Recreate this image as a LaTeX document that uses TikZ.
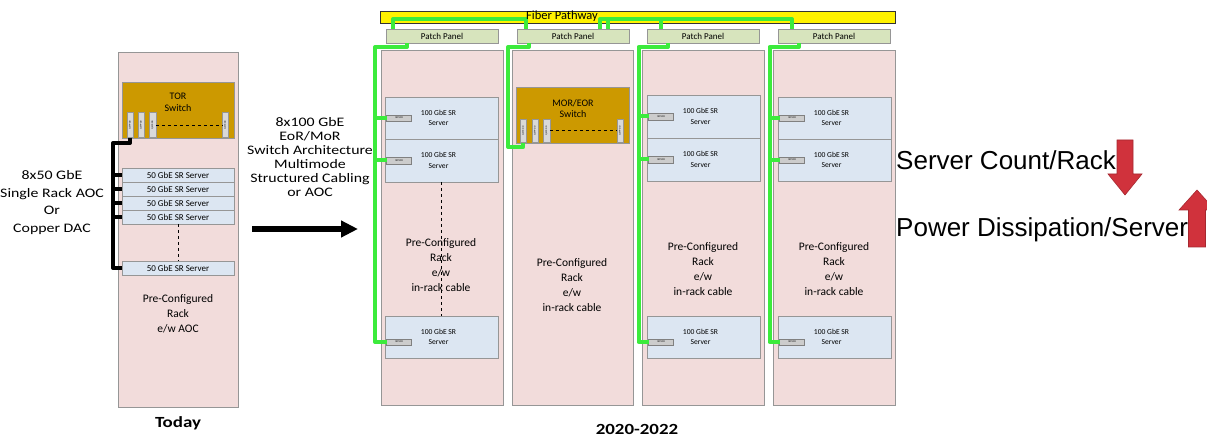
\documentclass[tikz,border=0pt]{standalone}
\usepackage{fontspec}
\setmainfont{Carlito}
\newfontfamily\widef[FakeStretch=1.22]{Carlito}
\newfontfamily\arialf{Liberation Sans}
\usetikzlibrary{arrows.meta,calc}
\definecolor{rackpink}{RGB}{242,220,219}
\definecolor{srvblue}{RGB}{220,230,242}
\definecolor{gold}{RGB}{204,153,0}
\definecolor{ppgreen}{RGB}{215,228,189}
\definecolor{fiberg}{RGB}{60,235,60}
\definecolor{edgegray}{RGB}{150,150,150}
\definecolor{portgray}{RGB}{217,217,217}
\definecolor{redarrow}{RGB}{208,50,60}
\definecolor{rededge}{RGB}{165,40,48}
\begin{document}
\begin{tikzpicture}[x=1pt,y=-1pt,
  box/.style={draw=edgegray, line width=0.6pt, inner sep=0pt, outer sep=0pt, anchor=north west},
  rackbox/.style={box, fill=rackpink, minimum height=355pt},
  srv/.style={box, fill=srvblue},
  srv50/.style={srv, minimum width=112pt, minimum height=14pt, font=\fontsize{9}{10}\selectfont},
  srv100/.style={srv, minimum width=113pt},
  swbox/.style={box, fill=gold},
  port/.style={draw=edgegray, fill=portgray, line width=0.4pt, inner sep=0pt, outer sep=0pt, anchor=north west, minimum width=6.6pt},
  porttxt/.style={rotate=90, inner sep=0pt, font=\fontsize{2.4}{3}\selectfont},
  sfp/.style={draw=gray, fill=portgray!85!gray, line width=0.4pt, inner sep=0pt, outer sep=0pt, anchor=west, minimum width=25pt, minimum height=6.5pt, font=\fontsize{2.6}{3}\selectfont},
  ppanel/.style={box, fill=ppgreen, minimum width=112pt, minimum height=14pt, font=\fontsize{9}{10}\selectfont},
  gl/.style={draw=fiberg, line width=4pt, line join=round},
  blk/.style={draw=black, line width=4pt, line join=round},
  lbl/.style={align=center, inner sep=0pt},
  srvtxt/.style={lbl, font=\fontsize{7.6}{10.6}\selectfont},
  racktxt/.style={lbl, font=\fontsize{11.5}{15}\selectfont},
  swtxt/.style={lbl, font=\fontsize{10}{12.5}\selectfont},
  yrtxt/.style={lbl, font=\widef\bfseries\fontsize{15.5}{17}\selectfont},
  righttxt/.style={anchor=base west, inner sep=0pt, font=\arialf\fontsize{26}{29}\selectfont},
  redar/.style={fill=redarrow, draw=rededge, line width=0.6pt, line join=miter}
]
\useasboundingbox (0,0) rectangle (1207,438);
\clip (0,0) rectangle (1207,438);

% ---------------- Today rack ----------------
\node[rackbox, minimum width=120pt] (r0) at (118,52) {};
\node[swbox, minimum width=112pt, minimum height=56pt] (tor) at (122,82) {};
\node[swtxt] (tort) at (178,102.5) {TOR\\Switch};
\node[port, minimum height=25.4pt] (q1) at (126.7,112.3) {};
\node[port, minimum height=25.4pt] (q2) at (137.7,112.3) {};
\node[port, minimum height=25.4pt] (q3) at (149.3,112.3) {};
\node[port, minimum height=25.4pt] (q4) at (222,112.3) {};
\foreach \q in {q1,q2,q3,q4} \node[porttxt] (\q t) at (\q.center) {QSFP-DD};
\draw[dashed, line width=0.8pt] (q3.east) -- (q4.west);

\node[srv50] (s1) at (122,168) {50 GbE SR Server};
\node[srv50] (s2) at (122,182) {50 GbE SR Server};
\node[srv50] (s3) at (122,196) {50 GbE SR Server};
\node[srv50] (s4) at (122,210) {50 GbE SR Server};
\node[srv50] (s5) at (122,261) {50 GbE SR Server};
\draw[dashed, line width=0.8pt] (s4.south) -- (s5.north);

\coordinate (k1) at (130,143);
\coordinate (k2) at (113,143);
\draw[blk] (q1.south) -- (k1) -- (k2) |- (s5.west);
\foreach \s in {s1,s2,s3,s4} \draw[blk] (k2 |- \s.west) -- (\s.west);

\node[racktxt] (r0t) at (178,314) {Pre-Configured\\Rack\\e/w AOC};
\node[yrtxt] (today) at (178,423) {Today};

% ---------------- left / middle texts ----------------
\node[lbl, font=\widef\fontsize{13}{17.5}\selectfont] (lt) at (52,202.5) {8x50 GbE\\Single Rack AOC\\Or\\Copper DAC};
\node[lbl, font=\widef\fontsize{13}{14.1}\selectfont] (mt) at (310,157) {8x100 GbE\\EoR/MoR\\Switch Architecture\\Multimode\\Structured Cabling\\or AOC};
\coordinate (ar1) at (252,229);
\coordinate (ar2) at (358,229);
\draw[line width=5.5pt, -{Triangle[length=17pt,width=16pt]}] (ar1) -- (ar2);

% ---------------- 2020-2022 racks ----------------
\node[rackbox, minimum width=122pt] (rk1) at (381,50) {};
\node[rackbox, minimum width=121pt] (rk2) at (512,50) {};
\node[rackbox, minimum width=122pt] (rk3) at (642,50) {};
\node[rackbox, minimum width=122pt] (rk4) at (773,50) {};

\node[ppanel] (pp1) at (386,29) {Patch Panel};
\node[ppanel] (pp2) at (517,29) {Patch Panel};
\node[ppanel] (pp3) at (647,29) {Patch Panel};
\node[ppanel] (pp4) at (778,29) {Patch Panel};

\node[draw=black!80, fill=yellow, line width=0.8pt, anchor=north west, minimum width=515pt, minimum height=12pt, inner sep=0pt, outer sep=0pt] (fp) at (380,11) {};

% rack 1 servers
\node[srv100, minimum height=42pt] (a1) at (385,97) {};
\node[srv100, minimum height=43pt] (a2) at (385,139) {};
\node[srv100, minimum height=42pt] (a3) at (385,316) {};
\draw[dashed, line width=0.8pt] (a2.south) -- (a3.north);
% rack 3 servers
\node[srv100, minimum height=43pt] (b1) at (647,95) {};
\node[srv100, minimum height=43pt] (b2) at (647,138) {};
\node[srv100, minimum height=42pt] (b3) at (647,316) {};
% rack 4 servers
\node[srv100, minimum height=42pt] (c1) at (778,97) {};
\node[srv100, minimum height=42pt] (c2) at (778,139) {};
\node[srv100, minimum height=42pt] (c3) at (778,316) {};

\foreach \s in {a1,a2,b1,b2,c1,c2} {
  \node[sfp] (\s p) at ($(\s.west)+(1.6,0)$) {SFP-DD};
  \node[srvtxt] (\s t) at ($(\s.center)+(-3,0)$) {100 GbE SR\\Server};
}
\foreach \s in {a3,b3,c3} {
  \node[sfp] (\s p) at ($(\s.west)+(1.6,5)$) {SFP-DD};
  \node[srvtxt] (\s t) at ($(\s.center)+(-3,0)$) {100 GbE SR\\Server};
}

% MOR/EOR switch
\node[swbox, minimum width=113pt, minimum height=56pt] (mor) at (516,87) {};
\node[swtxt, font=\fontsize{10}{11.5}\selectfont] (mort) at (573,108.5) {MOR/EOR\\Switch};
\node[port, minimum height=23.7pt] (m1) at (520,119) {};
\node[port, minimum height=23.7pt] (m2) at (531.7,119) {};
\node[port, minimum height=23.7pt] (m3) at (543.3,119) {};
\node[port, minimum height=23.7pt] (m4) at (616.7,119) {};
\foreach \q in {m1,m2,m3,m4} \node[porttxt] (\q t) at (\q.center) {QSFP-DD};
\draw[dashed, line width=0.8pt] (m3.east) -- (m4.west);

% green fiber routes
\coordinate (t1) at (393,19);
\coordinate (t2) at (526,19);
\coordinate (t3) at (600,19);
\coordinate (t4) at (792,19);
\coordinate (t5) at (608,19);
\coordinate (t6) at (661,19);
\draw[gl] (t1 |- pp1.north) -- (t1) -- (t2) -- (t2 |- pp2.north);
\draw[gl] (t3 |- pp2.north) -- (t3) -- (t4) -- (t4 |- pp4.north);
\draw[gl] (t5) -- (t5 |- pp2.north);
\draw[gl] (t6) -- (t6 |- pp3.north);

\coordinate (g1a) at (407,47);
\coordinate (g1b) at (375,47);
\draw[gl] (g1a |- pp1.south) -- (g1a) -- (g1b) |- (a3p.west);
\foreach \s in {a1p,a2p} \draw[gl] (g1b |- \s.west) -- (\s.west);

\coordinate (g2a) at (529,47);
\coordinate (g2b) at (508,47);
\coordinate (g2c) at (508,147);
\draw[gl] (g2a |- pp2.south) -- (g2a) -- (g2b) -- (g2c) -| (m1.south);

\coordinate (g3a) at (668,47);
\coordinate (g3b) at (638.5,47);
\draw[gl] (g3a |- pp3.south) -- (g3a) -- (g3b) |- (b3p.west);
\foreach \s in {b1p,b2p} \draw[gl] (g3b |- \s.west) -- (\s.west);

\coordinate (g4a) at (799,47);
\coordinate (g4b) at (769.5,47);
\draw[gl] (g4a |- pp4.south) -- (g4a) -- (g4b) |- (c3p.west);
\foreach \s in {c1p,c2p} \draw[gl] (g4b |- \s.west) -- (\s.west);

\node[lbl, font=\fontsize{12.5}{14}\selectfont] (fpt) at (562,16.5) {Fiber Pathway};

% rack texts
\node[racktxt] (rk1t) at (441,265.5) {Pre-Configured\\Rack\\e/w\\in-rack cable};
\node[racktxt] (rk2t) at (572,285.5) {Pre-Configured\\Rack\\e/w\\in-rack cable};
\node[racktxt] (rk3t) at (703,269) {Pre-Configured\\Rack\\e/w\\in-rack cable};
\node[racktxt] (rk4t) at (834,269) {Pre-Configured\\Rack\\e/w\\in-rack cable};
\node[yrtxt] (yr) at (637,429.5) {2020-2022};

% right side
\node[righttxt] (sc) at (896,170) {Server Count/Rack};
\node[righttxt] (pd) at (896,236.7) {Power Dissipation/Server};
\draw[redar] (1117,140) -- (1133,140) -- (1133,174) -- (1142,174) -- (1125,195) -- (1108,174) -- (1117,174) -- cycle;
\draw[redar] (1197,190) -- (1215,210) -- (1205.5,210) -- (1205.5,247) -- (1188.5,247) -- (1188.5,210) -- (1179,210) -- cycle;
\end{tikzpicture}
\end{document}
